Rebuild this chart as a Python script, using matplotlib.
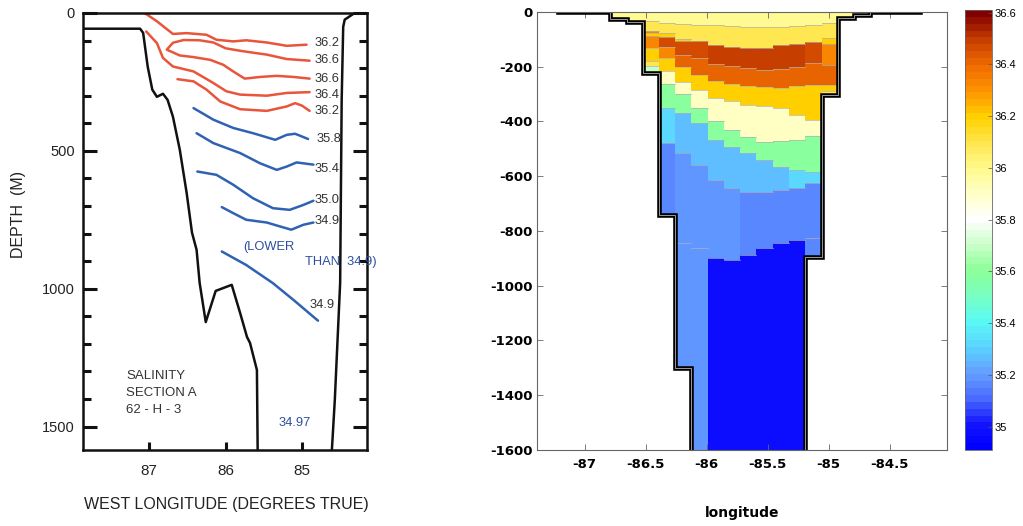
import numpy as np
import matplotlib
matplotlib.use('Agg')
import matplotlib.pyplot as plt
from matplotlib.colors import LinearSegmentedColormap, Normalize
from matplotlib.cm import ScalarMappable
from matplotlib.ticker import MultipleLocator

plt.rcParams['axes.unicode_minus'] = False

# ---------------- left panel: 1962 salinity section (west lon, depth m) ----------------
bathy_w_lon = [87.84, 87.12, 87.08, 87.02, 86.96, 86.90, 86.82, 86.76, 86.69, 86.60, 86.51,
               86.44, 86.38, 86.34, 86.26, 86.13, 85.92, 85.81, 85.72, 85.68, 85.59, 85.58]
bathy_w_dep = [57, 57, 72, 195, 278, 304, 293, 315, 376, 496, 653,
               797, 859, 979, 1121, 1008, 986, 1088, 1175, 1197, 1295, 1593]
bathy_e_lon = [84.31, 84.44, 84.46, 84.48, 84.50, 84.57, 84.61]
bathy_e_dep = [0, 24, 50, 315, 979, 1404, 1593]

# isohalines: (lon list, depth list)
red_lines = [
    ([87.06, 86.90, 86.69, 86.51, 86.25, 86.12, 85.90, 85.73, 85.46, 85.20, 84.94],
     [0, 30, 76, 73, 79, 97, 103, 99, 107, 119, 115]),
    ([84.90, 85.20, 85.46, 85.64, 85.81, 86.00, 86.16, 86.34, 86.55, 86.69, 86.77,
      86.60, 86.42, 86.20, 86.03, 85.90, 85.75, 85.55, 85.33, 85.11, 84.90],
     [173, 167, 151, 144, 137, 128, 107, 99, 98, 108, 133,
      154, 160, 170, 188, 212, 238, 232, 228, 232, 238]),
    ([87.04, 86.90, 86.82, 86.69, 86.42, 86.16, 85.99, 85.81, 85.46, 85.20, 84.90],
     [67, 109, 163, 194, 212, 254, 284, 296, 300, 290, 287]),
    ([86.63, 86.42, 86.25, 86.07, 85.81, 85.46, 85.20, 85.09, 85.00, 84.90],
     [240, 248, 278, 321, 349, 355, 339, 327, 336, 355]),
]
blue_lines = [
    ([86.42, 86.16, 85.90, 85.64, 85.35, 85.20, 85.09, 84.92],
     [345, 387, 417, 436, 460, 442, 438, 457]),
    ([86.38, 86.16, 85.81, 85.55, 85.33, 85.20, 85.07, 84.85],
     [436, 472, 508, 545, 569, 557, 542, 550]),
    ([86.37, 86.12, 85.90, 85.64, 85.38, 85.16, 84.98, 84.85],
     [575, 587, 623, 672, 708, 714, 696, 681]),
    ([86.05, 85.90, 85.73, 85.46, 85.29, 85.14, 84.98, 84.85],
     [704, 726, 750, 760, 774, 786, 768, 760]),
    ([86.05, 85.73, 85.38, 85.11, 84.79],
     [865, 914, 980, 1041, 1116]),
]
iso_labels = ['36.2', '36.6', '36.6', '36.4', '36.2', '35.8', '35.4', '35.0', '34.9', '34.9']
iso_label_lon = [84.83, 84.84, 84.83, 84.84, 84.83, 84.81, 84.84, 84.83, 84.83, 84.90]
iso_label_dep = [109, 169, 238, 299, 357, 457, 566, 678, 756, 1059]

# ---------------- right panel: model section (lon, depth) ----------------
col_edges = [-86.79, -86.655, -86.52, -86.39, -86.257, -86.125, -85.992, -85.859, -85.725,
             -85.592, -85.459, -85.326, -85.192, -85.058, -84.925, -84.79, -84.658]
band_sal = {'PY': 35.98, 'Y': 36.10, 'G': 36.20, 'O': 36.33, 'O2': 36.40, 'R': 36.46,
            'RR': 36.50, 'C': 35.90, 'PG': 35.70, 'LG': 35.60, 'CY': 35.32, 'SB': 35.27,
            'CB': 35.20, 'PB': 35.16, 'DB': 34.97}
col_depths = [
    [0, -26],
    [0, -36],
    [0, -34, -68, -77, -89, -131, -180, -199, -224],
    [0, -40, -77, -92, -129, -168, -217, -263, -351, -480, -742],
    [0, -44, -97, -107, -156, -200, -254, -300, -370, -516, -845, -1300],
    [0, -46, -107, -168, -229, -284, -351, -405, -559, -863, -1650],
    [0, -49, -119, -189, -252, -314, -399, -468, -614, -900, -1650],
    [0, -52, -128, -197, -263, -326, -431, -492, -644, -906, -1650],
    [0, -55, -131, -205, -269, -339, -455, -516, -656, -888, -1650],
    [0, -56, -131, -211, -275, -345, -474, -540, -656, -863, -1650],
    [0, -56, -120, -207, -276, -351, -472, -568, -650, -845, -1650],
    [0, -52, -117, -202, -272, -375, -466, -577, -644, -833, -1650],
    [0, -46, -110, -186, -266, -393, -454, -585, -626, -827, -894],
    [0, -40, -95, -117, -192, -266, -290, -302],
    [0, -22],
    [0, -10],
]
col_bands = [
    ['PY'],
    ['PY'],
    ['PY', 'Y', 'O', 'G', 'O', 'G', 'Y', 'PG'],
    ['PY', 'Y', 'G', 'R', 'O', 'G', 'C', 'LG', 'CY', 'PB'],
    ['PY', 'Y', 'G', 'R', 'O2', 'G', 'C', 'LG', 'SB', 'CB', 'CB'],
    ['PY', 'Y', 'R', 'O2', 'G', 'C', 'LG', 'SB', 'CB', 'CB'],
    ['PY', 'Y', 'RR', 'O2', 'G', 'C', 'LG', 'SB', 'CB', 'DB'],
    ['PY', 'Y', 'RR', 'O2', 'G', 'C', 'LG', 'SB', 'CB', 'DB'],
    ['PY', 'Y', 'RR', 'O2', 'G', 'C', 'LG', 'SB', 'PB', 'DB'],
    ['PY', 'Y', 'RR', 'O2', 'G', 'C', 'LG', 'SB', 'PB', 'DB'],
    ['PY', 'Y', 'RR', 'O2', 'G', 'C', 'LG', 'SB', 'PB', 'DB'],
    ['PY', 'Y', 'RR', 'O2', 'G', 'C', 'LG', 'CY', 'PB', 'DB'],
    ['PY', 'Y', 'R', 'O2', 'G', 'C', 'LG', 'CY', 'PB', 'PB'],
    ['PY', 'Y', 'G', 'O', 'O2', 'G', 'Y'],
    ['PY'],
    ['PY'],
]
shelf_ends = [-87.22, -84.25]

cmap_vals = [34.91, 35.0, 35.1, 35.2, 35.3, 35.4, 35.5, 35.6, 35.7, 35.8, 35.9,
             36.0, 36.1, 36.2, 36.3, 36.4, 36.5, 36.61]
cmap_cols = ['#0000ff', '#1414ff', '#4a6cff', '#64a0ff', '#5ad2ff', '#5afaf5', '#78ffc3',
             '#8cff96', '#c8ffc8', '#ffffff', '#ffffc8', '#fffa8c', '#ffe650', '#ffd200',
             '#ff9600', '#f06e00', '#c84000', '#820000']
cbar_ticks = [35, 35.2, 35.4, 35.6, 35.8, 36, 36.2, 36.4, 36.6]

# colormap
lo, hi = cmap_vals[0], cmap_vals[-1]
cmap = LinearSegmentedColormap.from_list(
    'sal', [((v - lo) / (hi - lo), c) for v, c in zip(cmap_vals, cmap_cols)], N=64)
norm = Normalize(lo, hi)

fig = plt.figure(figsize=(10.23, 5.26), dpi=100)
font_l = ['Liberation Sans', 'DejaVu Sans']
ink = '#222222'

# ===== left =====
ax1 = fig.add_axes([0.0811, 0.1445, 0.2776, 0.8308])
ax1.set_xlim(87.868, 84.149)
ax1.set_ylim(1585, 0)
for s in ax1.spines.values():
    s.set_linewidth(1.8)
    s.set_color('#111111')

for lons, deps in red_lines:
    ax1.plot(lons, deps, color='#e8553a', lw=1.8, solid_capstyle='round', solid_joinstyle='round')
for lons, deps in blue_lines:
    ax1.plot(lons, deps, color='#2f62b3', lw=1.8, solid_capstyle='round', solid_joinstyle='round')
ax1.plot(bathy_w_lon, bathy_w_dep, color='#111111', lw=1.8, solid_joinstyle='round')
ax1.plot(bathy_e_lon, bathy_e_dep, color='#111111', lw=1.8, solid_joinstyle='round')

for t, lo_, de in zip(iso_labels, iso_label_lon, iso_label_dep):
    ax1.text(lo_, de, t, family=font_l, fontsize=9.3, color='#333333', ha='left', va='center')

blue_txt = '#2d4f9e'
ax1.text(85.77, 847, '(LOWER', family=font_l, fontsize=9.3, color=blue_txt, va='center')
ax1.text(84.96, 904, 'THAN  34.9)', family=font_l, fontsize=9.3, color=blue_txt, va='center',
         clip_on=False)
ax1.text(85.31, 1488, '34.97', family=font_l, fontsize=9.3, color=blue_txt, va='center')
for i, line in enumerate(['SALINITY', 'SECTION A', '62 - H - 3']):
    ax1.text(87.30, [1315, 1377, 1440][i], line, family=font_l, fontsize=9.5, color='#333333',
             va='center')

ax1.set_yticks([0, 500, 1000, 1500])
ax1.yaxis.set_minor_locator(MultipleLocator(100))
ax1.tick_params(axis='y', which='both', direction='in', left=True, right=True, width=2.2,
                color='#111111', labelsize=10.5, labelcolor=ink, pad=6)
ax1.tick_params(axis='y', which='major', length=10)
ax1.tick_params(axis='y', which='minor', length=5.5)
ax1.set_xticks([87, 86, 85])
ax1.set_xticklabels(['87', '86', '85'])
ax1.tick_params(axis='x', direction='in', length=6, width=2.2, color='#111111',
                labelsize=11, labelcolor=ink, pad=10)
for lab in ax1.get_xticklabels() + ax1.get_yticklabels():
    lab.set_family(font_l)

fig.text(0.221, 0.040, 'WEST LONGITUDE (DEGREES TRUE)', family=font_l, fontsize=11.5,
         color=ink, ha='center', va='center')
fig.text(0.0176, 0.593, 'DEPTH  (M)', family=font_l, fontsize=11.5, color=ink,
         ha='center', va='center', rotation=90)

# ===== right =====
ax2 = fig.add_axes([0.525, 0.1445, 0.4008, 0.8327])
ax2.set_xlim(-87.39, -84.03)
ax2.set_ylim(-1600, 0)

for i, (deps, bands) in enumerate(zip(col_depths, col_bands)):
    x = [col_edges[i], col_edges[i + 1]]
    vals = np.array([band_sal[b] for b in bands])[:, None]
    ax2.pcolormesh(x, deps, vals, cmap=cmap, norm=norm, shading='flat', edgecolors='none')
    for d in deps[1:-1]:
        ax2.plot(x, [d, d], color='#b0b0b0', lw=0.5)

bottoms = [d[-1] for d in col_depths]
tx = np.concatenate([[shelf_ends[0]], np.repeat(col_edges, 2), [shelf_ends[1]]])
ty = np.concatenate([[0, 0], np.repeat(bottoms, 2), [0, 0]])
ax2.plot(tx, ty, color='black', lw=3.3, solid_joinstyle='miter')
ax2.plot(tx, ty, color='#9a9a9a', lw=0.7, solid_joinstyle='miter')

for s in ax2.spines.values():
    s.set_linewidth(0.8)
    s.set_color('#666666')
ax2.set_yticks(np.arange(-1600, 1, 200))
ax2.set_xticks([-87, -86.5, -86, -85.5, -85, -84.5])
ax2.set_xticklabels(['-87', '-86.5', '-86', '-85.5', '-85', '-84.5'])
ax2.tick_params(direction='in', top=True, right=True, length=4, width=0.6, color='#666666',
                labelsize=9.5, labelcolor='black')
ax2.tick_params(axis='x', pad=6)
ax2.tick_params(axis='y', pad=3)
for lab in ax2.get_xticklabels() + ax2.get_yticklabels():
    lab.set_fontweight('bold')
fig.text(0.7253, 0.0247, 'longitude', fontsize=10, fontweight='bold', ha='center', va='center')

cax = fig.add_axes([0.9433, 0.1445, 0.0264, 0.8365])
cb = fig.colorbar(ScalarMappable(norm=norm, cmap=cmap), cax=cax, ticks=cbar_ticks)
cb.set_ticklabels(['35', '35.2', '35.4', '35.6', '35.8', '36', '36.2', '36.4', '36.6'])
cb.outline.set_edgecolor('#666666')
cb.outline.set_linewidth(0.6)
cax.tick_params(direction='in', length=3, width=0.5, color='#555555', labelsize=8, pad=2)
for lab in cax.get_yticklabels():
    lab.set_family(font_l)

fig.savefig('out.png', dpi=100)
